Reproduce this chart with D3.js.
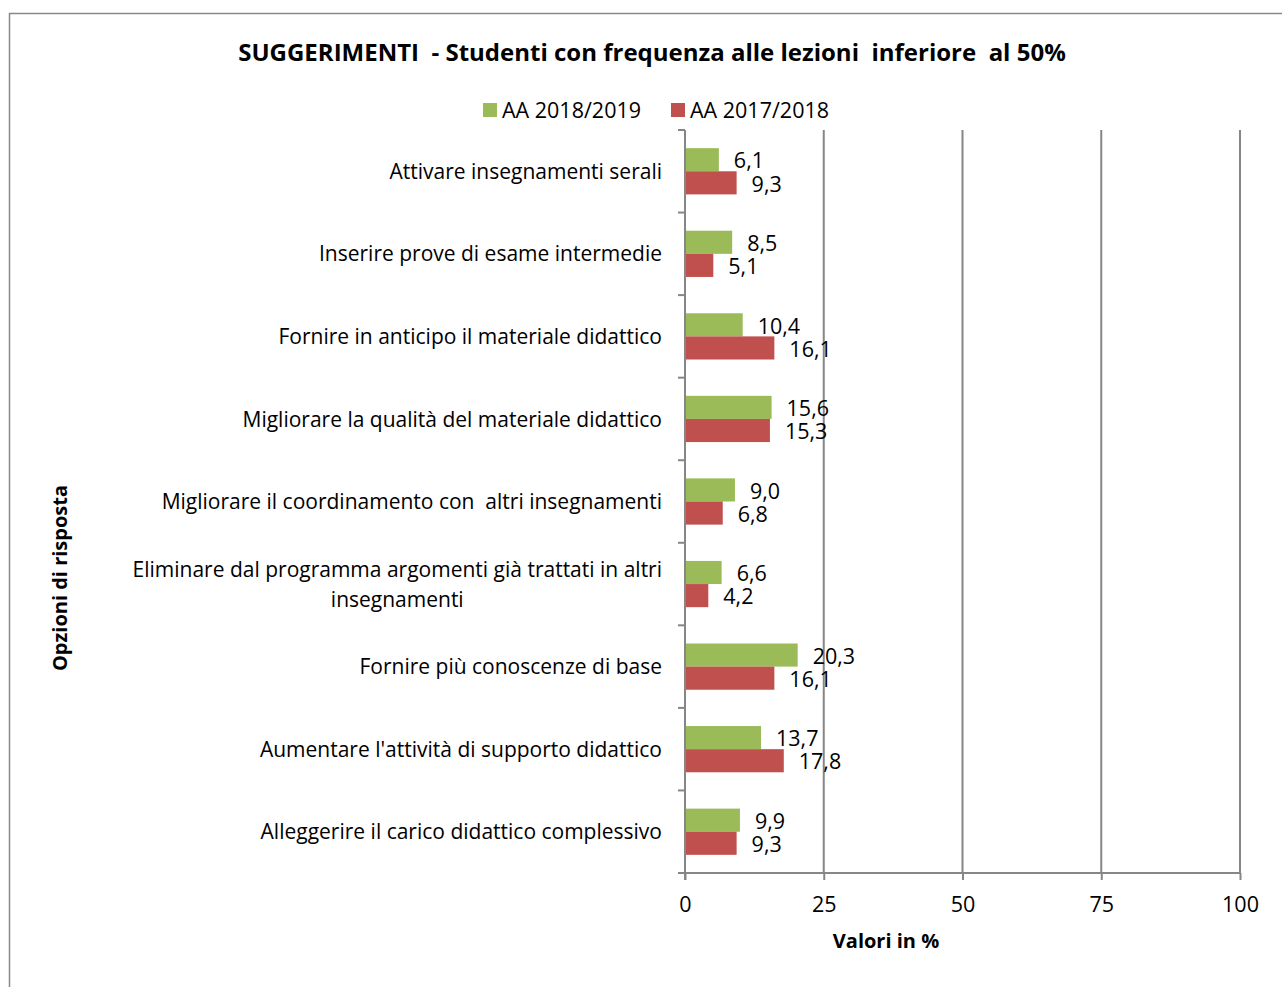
<!DOCTYPE html>
<html><head><meta charset="utf-8">
<script src="https://cdn.jsdelivr.net/npm/d3@7"></script>
<style>body{margin:0;background:#fff;}text{font-family:"Open Sans",sans-serif;fill:#000;}</style>
</head><body>
<svg id="c" width="1282" height="987"></svg>
<script>
const categories = [
  "Attivare insegnamenti serali",
  "Inserire prove di esame intermedie",
  "Fornire in anticipo il materiale didattico",
  "Migliorare la qualità del materiale didattico",
  "Migliorare il coordinamento con  altri insegnamenti",
  "Eliminare dal programma argomenti già trattati in altri|insegnamenti",
  "Fornire più conoscenze di base",
  "Aumentare l'attività di supporto didattico",
  "Alleggerire il carico didattico complessivo"
];
const series = ["AA 2018/2019", "AA 2017/2018"];
const values2018_19 = [6.1, 8.5, 10.4, 15.6, 9.0, 6.6, 20.3, 13.7, 9.9];
const values2017_18 = [9.3, 5.1, 16.1, 15.3, 6.8, 4.2, 16.1, 17.8, 9.3];
const xTicks = [0, 25, 50, 75, 100];
const colors = ["#9BBB59", "#C0504D"];

const svg = d3.select("#c");
const pL = 685, pR = 1240, pT = 130, pB = 873;
const gridCol = "#868686";
const catFs = 21, numFs = 21.5;

svg.append("rect").attr("x", 9.5).attr("y", 13.5).attr("width", 1300).attr("height", 1000)
  .attr("fill", "none").attr("stroke", "#898989").attr("stroke-width", 1.5);

const x = d3.scaleLinear().domain([0, 100]).range([pL, pR]);
const y = d3.scaleBand().domain(categories).range([pT, pB]).paddingInner(0.44).paddingOuter(0.22);
const y0 = d3.scaleBand().domain(categories).range([pT, pB]);
const ySub = d3.scaleBand().domain(series).range([0, y.bandwidth()]);

// gridlines
svg.append("g").selectAll("line").data(xTicks.slice(1)).join("line")
  .attr("x1", d => x(d)).attr("x2", d => x(d)).attr("y1", pT).attr("y2", pB)
  .attr("stroke", gridCol).attr("stroke-width", 2);

// bars
const data = categories.map((c, i) => ({c, vals: [values2018_19[i], values2017_18[i]]}));
const g = svg.append("g");
data.forEach(d => {
  d.vals.forEach((v, j) => {
    const yy = y(d.c) + ySub(series[j]);
    g.append("rect").attr("x", x(0)).attr("y", yy).attr("width", x(v) - x(0)).attr("height", ySub.bandwidth())
      .attr("fill", colors[j]);
    g.append("text").attr("x", x(v) + 15).attr("y", yy + ySub.bandwidth() / 2 + 1).attr("dy", "0.36em")
      .attr("font-size", numFs).text(v.toFixed(1).replace(".", ","));
  });
});

// x axis
const xAxis = svg.append("g").attr("transform", `translate(0,${pB})`)
  .call(d3.axisBottom(x).tickValues(xTicks).tickSize(7).tickPadding(17));
xAxis.select(".domain").attr("stroke", gridCol).attr("stroke-width", 2).attr("d", `M${pL},0H${pR}`);
xAxis.selectAll(".tick line").attr("stroke", gridCol).attr("stroke-width", 2);
xAxis.selectAll(".tick text").attr("font-size", numFs).attr("font-family", "Open Sans");

// y axis
const yAxisG = svg.append("g");
yAxisG.append("line").attr("x1", pL).attr("x2", pL).attr("y1", pT).attr("y2", pB + 7)
  .attr("stroke", gridCol).attr("stroke-width", 2);
const bounds = categories.map(c => y0(c)).concat([pB]);
yAxisG.selectAll("line.t").data(bounds).join("line").attr("class", "t")
  .attr("x1", pL - 7).attr("x2", pL).attr("y1", d => d).attr("y2", d => d)
  .attr("stroke", gridCol).attr("stroke-width", 2);

// category labels
categories.forEach(c => {
  const lines = c.split("|");
  const cy = y0(c) + y0.bandwidth() / 2;
  const lh = 30;
  const t0 = svg.append("text").attr("x", 662).attr("text-anchor", "end").attr("font-size", catFs)
    .attr("xml:space", "preserve")
    .attr("y", cy - (lines.length - 1) * lh / 2).attr("dy", "0.36em").text(lines[0]);
  if (lines.length > 1) {
    const w = t0.node().getComputedTextLength();
    svg.append("text").attr("x", 662 - w / 2).attr("text-anchor", "middle").attr("font-size", catFs)
      .attr("y", cy + lh / 2).attr("dy", "0.36em").text(lines[1]);
  }
});

// title
svg.append("text").attr("x", 652).attr("y", 52).attr("dy", "0.36em").attr("text-anchor", "middle")
  .attr("font-size", 24).attr("font-weight", "bold").attr("xml:space", "preserve")
  .text("SUGGERIMENTI  - Studenti con frequenza alle lezioni  inferiore  al 50%");

// legend
const legX = [483, 671];
series.forEach((s, i) => {
  svg.append("rect").attr("x", legX[i]).attr("y", 103).attr("width", 14).attr("height", 14).attr("fill", colors[i]);
  svg.append("text").attr("x", legX[i] + 19).attr("y", 110).attr("dy", "0.36em").attr("font-size", numFs).text(s);
});

// axis titles
svg.append("text").attr("x", 886).attr("y", 941).attr("dy", "0.36em").attr("text-anchor", "middle")
  .attr("font-size", 20).attr("font-weight", "bold").text("Valori in %");
svg.append("text").attr("transform", "translate(60,578) rotate(-90)").attr("dy", "0.36em").attr("text-anchor", "middle")
  .attr("font-size", 20).attr("font-weight", "bold").text("Opzioni di risposta");
</script>
</body></html>
